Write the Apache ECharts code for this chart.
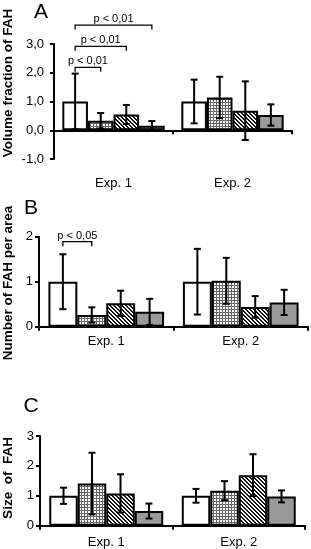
<!DOCTYPE html>
<html><head><meta charset="utf-8">
<script src="https://cdn.jsdelivr.net/npm/echarts@6/dist/echarts.min.js"></script>
<style>html,body{margin:0;padding:0;background:#fff;}#c{width:311px;height:549px;}</style>
</head><body><div id="c"></div>
<script>
const categories = ['Exp. 1', 'Exp. 2'];
const groupNames = ['white', 'cross', 'diag', 'gray'];
// Panel A: volume fraction of FAH
const volMean = [[1.00, 1.00], [0.33, 1.14], [0.55, 0.68], [0.16, 0.53]];
const volErr  = [[0.97, 0.76], [0.27, 0.72], [0.33, 1.02], [0.16, 0.37]];
// Panel B: number of FAH per area
const numMean = [[1.00, 1.00], [0.26, 1.02], [0.52, 0.44], [0.33, 0.54]];
const numErr  = [[0.61, 0.73], [0.17, 0.51], [0.28, 0.24], [0.29, 0.28]];
// Panel C: size of FAH
const sizeMean = [[1.00, 1.00], [1.41, 1.17], [1.08, 1.69], [0.49, 0.98]];
const sizeErr  = [[0.27, 0.23], [1.03, 0.32], [0.64, 0.70], [0.25, 0.20]];
// significance brackets: [category, fromBar, toBar, level]
const volBrackets = [[0, 0, 1, 2.19], [0, 0, 2, 2.92], [0, 0, 3, 3.66]];
const volBracketLabels = ['p < 0,01', 'p < 0,01', 'p < 0,01'];
const numBrackets = [[0, 0, 1, 1.89]];
const numBracketLabels = ['p < 0,05'];
const volTicks = ['-1,0', '0,0', '1,0', '2,0', '3,0'];

const FONT = 'Liberation Sans, Arial, sans-serif';
const GAP = 0.14;

function makePattern(kind) {
  const c = document.createElement('canvas');
  if (kind === 'cross') {
    c.width = 3; c.height = 3;
    const g = c.getContext('2d');
    g.fillStyle = '#fff'; g.fillRect(0, 0, 3, 3);
    g.fillStyle = '#6a6a6a'; g.fillRect(0, 0, 3, 1); g.fillRect(0, 0, 1, 3);
  } else {
    c.width = 4; c.height = 4;
    const g = c.getContext('2d');
    g.fillStyle = '#fff'; g.fillRect(0, 0, 4, 4);
    g.fillStyle = '#111';
    for (let i = 0; i < 4; i++) { g.fillRect(i, i, 1, 1); g.fillRect((i + 1) % 4, i, 1, 1); }
  }
  return c;
}
const fills = ['#ffffff', {image: makePattern('cross'), repeat: 'repeat'},
  {image: makePattern('diag'), repeat: 'repeat'}, '#9a9a9a'];

function barCenter(api, cat, idx) {
  const bw = api.size([1, 0])[0];
  const used = bw * (1 - GAP);
  const w = used / 4;
  return api.coord([cat, 0])[0] - used / 2 + w * (idx + 0.5);
}

function errRender(params, api) {
  const cat = api.value(0), idx = api.value(1), m = api.value(2), e = api.value(3);
  const x = barCenter(api, cat, idx);
  const yt = api.coord([cat, m + e])[1];
  const yb = api.coord([cat, m - e])[1];
  const st = {stroke: '#000', lineWidth: 2};
  return {type: 'group', children: [
    {type: 'line', shape: {x1: x, y1: yt, x2: x, y2: yb}, style: st},
    {type: 'line', shape: {x1: x - 3.5, y1: yt, x2: x + 3.5, y2: yt}, style: st},
    {type: 'line', shape: {x1: x - 3.5, y1: yb, x2: x + 3.5, y2: yb}, style: st}
  ]};
}

function bracketRender(labels) {
  return function (params, api) {
    const cat = api.value(0), a = api.value(1), b = api.value(2), lv = api.value(3);
    const x1 = barCenter(api, cat, a), x2 = barCenter(api, cat, b);
    const y = api.coord([cat, lv])[1];
    return {type: 'group', children: [
      {type: 'polyline', shape: {points: [[x1, y + 4.5], [x1, y], [x2, y], [x2, y + 4.5]]},
        style: {stroke: '#000', lineWidth: 1.3, fill: null}},
      {type: 'text', style: {text: labels[params.dataIndex], x: (x1 + x2) / 2, y: y - 6,
        align: 'center', verticalAlign: 'middle', font: '11px ' + FONT, fill: '#000'}}
    ]};
  };
}

const grids = [
  {left: 54, right: 19, top: 44, bottom: 549 - 159},
  {left: 39, right: 3, top: 236.7, bottom: 549 - 326.7},
  {left: 40, right: 6, top: 436, bottom: 549 - 525.7}
];
const labelMargins = [18, 8, 10];
const xAxes = grids.map((g, i) => ({
  type: 'category', gridIndex: i, data: categories,
  axisLine: {onZero: true, lineStyle: {color: '#000', width: 2}},
  axisTick: {show: true, length: 4, lineStyle: {color: '#000', width: 2}},
  axisLabel: {color: '#000', fontFamily: FONT, fontSize: 13, margin: labelMargins[i]},
  splitLine: {show: false}
}));
const yCfg = [
  {min: -1, max: 3, margin: 10, fmt: v => volTicks[Math.round(v) + 1]},
  {min: 0, max: 2, margin: 6, fmt: v => String(v)},
  {min: 0, max: 3, margin: 6, fmt: v => String(v)}
];
const yAxes = yCfg.map((c, i) => ({
  type: 'value', gridIndex: i, min: c.min, max: c.max, interval: 1,
  axisLine: {show: true, lineStyle: {color: '#000', width: 2}},
  axisTick: {show: true, length: 4, lineStyle: {color: '#000', width: 2}},
  axisLabel: {color: '#000', fontFamily: FONT, fontSize: 13, margin: c.margin, formatter: c.fmt},
  splitLine: {show: false}
}));

const panels = [[volMean, volErr], [numMean, numErr], [sizeMean, sizeErr]];
const series = [];
panels.forEach(([means, errs], p) => {
  means.forEach((vals, k) => {
    series.push({type: 'bar', name: groupNames[k], xAxisIndex: p, yAxisIndex: p, data: vals,
      barGap: '0%', barCategoryGap: (GAP * 100) + '%',
      itemStyle: {color: fills[k], borderColor: '#000', borderWidth: 2},
      emphasis: {disabled: true}, z: 2});
  });
  const ed = [];
  means.forEach((vals, k) => vals.forEach((m, c) => ed.push([c, k, m, errs[k][c]])));
  series.push({type: 'custom', xAxisIndex: p, yAxisIndex: p, renderItem: errRender, data: ed,
    clip: false, z: 5, silent: true});
});
series.push({type: 'custom', xAxisIndex: 0, yAxisIndex: 0, renderItem: bracketRender(volBracketLabels),
  data: volBrackets, clip: false, z: 6, silent: true});
series.push({type: 'custom', xAxisIndex: 1, yAxisIndex: 1, renderItem: bracketRender(numBracketLabels),
  data: numBrackets, clip: false, z: 6, silent: true});

const txt = (t, x, y, size, bold, rot) => ({type: 'text', x: x, y: y, rotation: rot || 0,
  style: {text: t, font: (bold ? 'bold ' : '') + size + 'px ' + FONT, fill: '#000',
    align: 'center', verticalAlign: 'middle'}});
const graphic = [
  txt('A', 41, 12, 21, false), txt('B', 31, 208.5, 21, false), txt('C', 31, 406, 21, false),
  txt('Volume fraction of FAH', 8.5, 83, 13.5, true, Math.PI / 2),
  txt('Number of FAH per area', 8.5, 283, 13.5, true, Math.PI / 2),
  txt('Size  of  FAH', 8.5, 478, 13.5, true, Math.PI / 2)
];

const chart = echarts.init(document.getElementById('c'), null, {renderer: 'canvas'});
chart.setOption({animation: false, grid: grids, xAxis: xAxes, yAxis: yAxes, series: series,
  graphic: graphic, tooltip: {show: false}});
</script></body></html>
